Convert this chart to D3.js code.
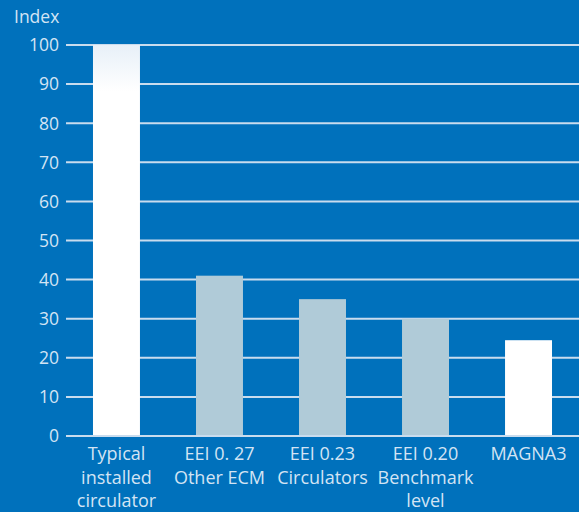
<!DOCTYPE html>
<html>
<head>
<meta charset="utf-8">
<script src="https://cdn.jsdelivr.net/npm/d3@7/dist/d3.min.js"></script>
<style>
  html, body { margin: 0; padding: 0; background: #0071bc; }
  svg { display: block; font-family: "Open Sans", "Noto Sans", sans-serif; }
</style>
</head>
<body>
<div id="chart"></div>
<script>
var categories = [
  ['Typical', 'installed', 'circulator'],
  ['EEI 0. 27', 'Other ECM'],
  ['EEI 0.23', 'Circulators'],
  ['EEI 0.20', 'Benchmark', 'level'],
  ['MAGNA3']
];
var values = [100, 41, 35, 30, 24.5];
var highlight = [true, false, false, false, true];
var yTicks = [0, 10, 20, 30, 40, 50, 60, 70, 80, 90, 100];

var w = 579
  , h = 512
  , margin = { top: 45, right: 0, bottom: 76, left: 66 }
  ;

var svg = d3.select('#chart').append('svg')
            .attr('width', w).attr('height', h);

svg.append('rect').attr('width', w).attr('height', h).attr('fill', '#0071bc');

var defs = svg.append('defs');
var grad = defs.append('linearGradient')
  .attr('id', 'topfade').attr('x1', 0).attr('y1', 0).attr('x2', 0).attr('y2', 1);
grad.append('stop').attr('offset', '0%').attr('stop-color', '#e8f0f8');
grad.append('stop').attr('offset', '12%').attr('stop-color', '#ffffff');
grad.append('stop').attr('offset', '100%').attr('stop-color', '#ffffff');

var x = d3.scaleBand()
  .domain(d3.range(categories.length))
  .range([margin.left, w])
  .paddingInner(0.544)
  .paddingOuter(0.262);

var y = d3.scaleLinear()
  .domain([0, 100])
  .range([h - margin.bottom, margin.top]);

// gridlines
svg.append('g')
  .selectAll('line').data(yTicks).enter()
  .append('line')
  .attr('x1', margin.left).attr('x2', w)
  .attr('y1', function (d) { return y(d); })
  .attr('y2', function (d) { return y(d); })
  .attr('stroke', '#c9dcee')
  .attr('stroke-width', 2);

// tick labels
svg.append('g')
  .selectAll('text').data(yTicks).enter()
  .append('text')
  .attr('x', 59)
  .attr('y', function (d) { return y(d); })
  .attr('dy', '0.36em')
  .attr('text-anchor', 'end')
  .attr('fill', '#d3e4f4')
  .style('font-size', '17.5px')
  .text(function (d) { return d; });

svg.append('text')
  .attr('x', 14).attr('y', 23)
  .attr('fill', '#d3e4f4')
  .style('font-size', '17.5px')
  .text('Index');

// bars
svg.append('g')
  .selectAll('rect').data(values).enter()
  .append('rect')
  .attr('x', function (d, i) { return x(i); })
  .attr('width', x.bandwidth())
  .attr('y', function (d) { return y(d); })
  .attr('height', function (d) { return y(0) - 1 - y(d); })
  .attr('fill', function (d, i) {
    if (i === 0) {
      return 'url(#topfade)';
    } else if (highlight[i]) {
      return '#ffffff';
    } else {
      return '#b0cbd8';
    }
  });

// category labels
var lab = svg.append('g')
  .selectAll('text').data(categories).enter()
  .append('text')
  .attr('text-anchor', 'middle')
  .attr('fill', '#d3e4f4')
  .style('font-size', '18px')
  .attr('transform', function (d, i) {
    return 'translate(' + (x(i) + x.bandwidth() / 2) + ',460)';
  });

lab.selectAll('tspan').data(function (d) { return d; }).enter()
  .append('tspan')
  .attr('x', 0)
  .attr('y', function (d, i) { return i * 23.5; })
  .text(function (d) { return d; });
</script>
</body>
</html>
